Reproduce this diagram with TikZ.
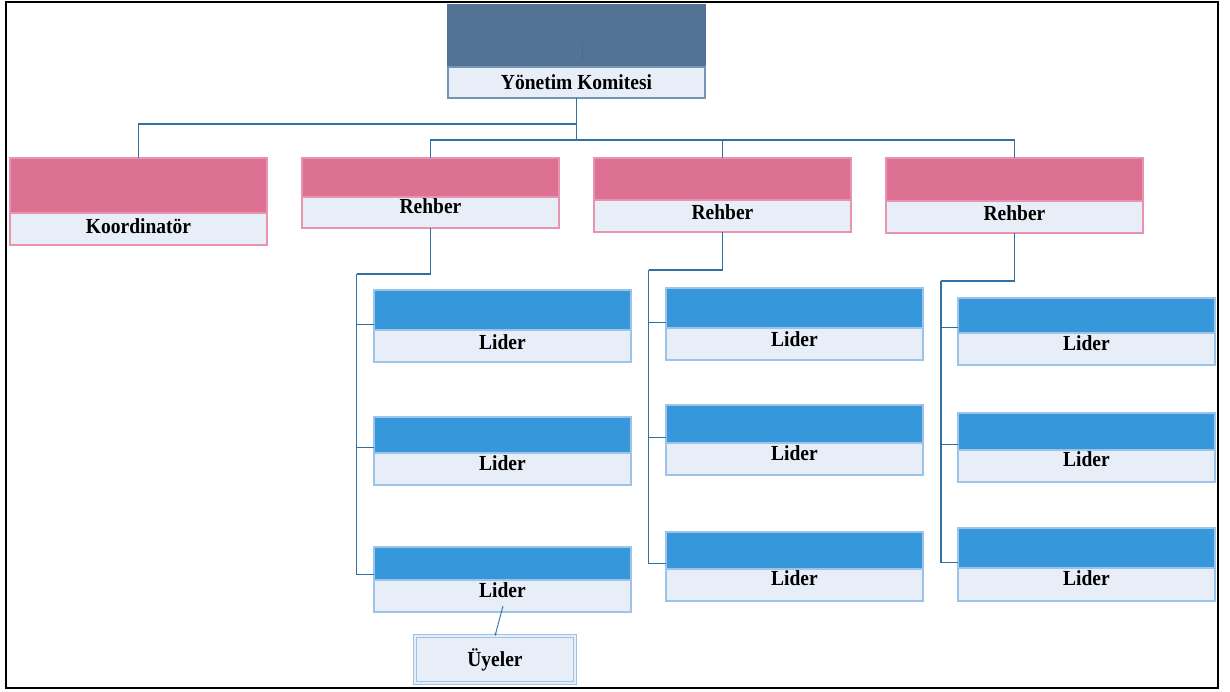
\documentclass[tikz,border=0pt]{standalone}
\usepackage{fontspec}
\setmainfont{Liberation Serif}
\usetikzlibrary{arrows.meta}

\definecolor{headslate}{HTML}{527394}
\definecolor{rosefill}{HTML}{DD7194}
\definecolor{roseline}{HTML}{E893B0}
\definecolor{paleband}{HTML}{E8EEF8}
\definecolor{skyfill}{HTML}{3698DA}
\definecolor{skyline}{HTML}{9CC3E8}
\definecolor{slateline}{HTML}{7594B8}
\definecolor{wirecol}{HTML}{3070A5}

\tikzset{
  box/.style={rectangle, inner sep=0pt, outer sep=0pt, anchor=north west, line width=1.2pt},
  headbox/.style={box, fill=headslate, draw=headslate},
  headband/.style={box, fill=paleband, draw=slateline},
  rosebox/.style={box, fill=rosefill, draw=roseline},
  roseband/.style={box, fill=paleband, draw=roseline},
  skybox/.style={box, fill=skyfill, draw=skyline},
  skyband/.style={box, fill=paleband, draw=skyline},
  wire/.style={draw=wirecol, line width=1.3pt},
  caption/.style={anchor=base, inner sep=0pt, font=\fontsize{19.5}{22}\selectfont\bfseries},
}

% a unit = coloured header block + pale caption band below it
% #1 name, #2 x, #3 y (top), #4 width, #5 header height, #6 band height, #7 style family
\newcommand\orgunit[7]{%
  \node[#7box, minimum width=#4pt, minimum height=#5pt] (#1-top) at (#2,#3) {};
  \node[#7band, minimum width=#4pt, minimum height=#6pt] (#1) at (#2,#3+#5) {};
}
\newcommand\lift[1]{\scalebox{1}[1.1]{#1}}

\begin{document}
\begin{tikzpicture}[x=1pt, y=-1pt]
  \useasboundingbox (0,0) rectangle (1230,691);
  \fill[white] (0,0) rectangle (1230,691);

  % outer frame
  \draw[line width=2.2pt] (6.3,1.8) rectangle (1218.3,688);

  % committee
  \orgunit{head}{448}{5}{257}{62}{31}{head}
  \draw[wirecol, line width=1.2pt] (582.7,46) -- (582.7,61);
  \fill[wirecol] (582.7,43.3) circle (0.8pt);

  % second level
  \orgunit{kord}{10}{158}{257}{55}{32}{rose}
  \orgunit{r1}{302}{158}{257}{39}{31}{rose}
  \orgunit{r2}{594}{158}{257}{42}{32}{rose}
  \orgunit{r3}{886}{158}{257}{43}{32}{rose}

  % leaders, column 1
  \orgunit{l11}{374}{290}{257}{40}{32}{sky}
  \orgunit{l12}{374}{417}{257}{36}{32}{sky}
  \orgunit{l13}{374}{547}{257}{33}{32}{sky}
  % leaders, column 2
  \orgunit{l21}{666}{288}{257}{40}{32}{sky}
  \orgunit{l22}{666}{405}{257}{38}{32}{sky}
  \orgunit{l23}{666}{532}{257}{37}{32}{sky}
  % leaders, column 3
  \orgunit{l31}{958}{298}{257}{35}{32}{sky}
  \orgunit{l32}{958}{413}{257}{37}{32}{sky}
  \orgunit{l33}{958}{528}{257}{40}{33}{sky}

  % members
  \node[rectangle, inner sep=0pt, outer sep=0pt, draw=skyline, line width=0.8pt,
        double=paleband, double distance=2.4pt, fill=paleband,
        minimum width=160pt, minimum height=47pt] (uye) at (495,659.5) {};

  % captions
  \node[caption] (t-head) at (576.5,89.3) {\lift{Yönetim Komitesi}};
  \node[caption] (t-kord) at (138.5,233.3) {\lift{Koordinatör}};
  \node[caption] (t-r1) at (430.5,213.3) {\lift{Rehber}};
  \node[caption] (t-r2) at (722.5,219) {\lift{Rehber}};
  \node[caption] (t-r3) at (1014.5,220) {\lift{Rehber}};
  \node[caption] (t-l11) at (502.5,349.5) {\lift{Lider}};
  \node[caption] (t-l12) at (502.5,470) {\lift{Lider}};
  \node[caption] (t-l13) at (502.5,597.3) {\lift{Lider}};
  \node[caption] (t-l21) at (794.5,346.7) {\lift{Lider}};
  \node[caption] (t-l22) at (794.5,460) {\lift{Lider}};
  \node[caption] (t-l23) at (794.5,585) {\lift{Lider}};
  \node[caption] (t-l31) at (1086.5,350) {\lift{Lider}};
  \node[caption] (t-l32) at (1086.5,466) {\lift{Lider}};
  \node[caption] (t-l33) at (1086.5,585) {\lift{Lider}};
  \node[caption] (t-uye) at (495,666) {\lift{Üyeler}};

  % connectors from the committee
  \coordinate (hubA) at (576.5,124);
  \coordinate (hubB) at (576.5,140);
  \draw[wire] (head.south) -- (hubA) -| (kord-top.north);
  \draw[wire] (hubA) -- (hubB);
  \draw[wire] (r1-top.north) |- (hubB) -| (r3-top.north);
  \draw[wire] (hubB) -| (r2-top.north);

  % connectors from each guide to its leaders
  \coordinate (c1) at (356.5,274);
  \coordinate (c2) at (648.5,270);
  \coordinate (c3) at (941,281);
  \draw[wire] (r1.south) |- (c1);
  \draw[wire] (r2.south) |- (c2);
  \draw[wire] (r3.south) |- (c3);
  \foreach \k in {1,2,3}{
    \foreach \j in {1,2,3}{
      \draw[wire, line width=1.1pt] ([yshift=5.5pt]l\k\j-top.south west) -| (c\k);
    }
  }

  % leader to members
  \draw[wirecol, line width=0.9pt, -{Stealth[length=3pt,width=2.5pt]}]
    ([xshift=0.5pt,yshift=6pt]l13.south) -- (uye.north);
\end{tikzpicture}
\end{document}
